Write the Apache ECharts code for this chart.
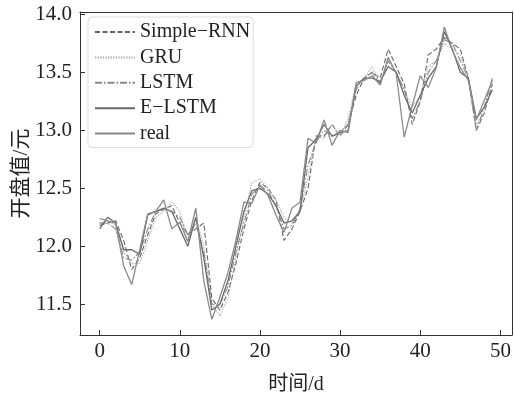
<!DOCTYPE html>
<html><head><meta charset="utf-8">
<script src="https://cdn.jsdelivr.net/npm/echarts@6/dist/echarts.min.js"></script>
<style>html,body{margin:0;padding:0;background:#fff}#c{width:514px;height:396px}</style>
</head><body><div id="c"></div>
<script>
const days = Array.from({length:50},(_,i)=>i);
const xTicks = [0,10,20,30,40,50];
const yTicks = [11.5,12.0,12.5,13.0,13.5,14.0];
const simpleRNN = [12.18,12.2,12.22,12.05,11.8,11.9,12.1,12.28,12.32,12.35,12.2,12.1,12.15,12.2,11.55,11.45,11.6,11.85,12.15,12.4,12.55,12.5,12.4,12.05,12.15,12.3,12.5,12.95,12.95,13.05,12.95,13.05,13.3,13.45,13.5,13.45,13.7,13.55,13.4,13.05,13.25,13.65,13.7,13.8,13.75,13.7,13.45,13.0,13.15,13.4];
const gru = [12.2,12.22,12.18,11.95,11.85,11.85,12.05,12.25,12.3,12.38,12.3,12.05,12.25,12.0,11.5,11.4,11.55,11.9,12.25,12.55,12.58,12.5,12.4,12.25,12.2,12.3,12.6,12.95,12.93,13.05,12.95,13.1,13.4,13.45,13.55,13.4,13.6,13.5,13.35,13.2,13.3,13.55,13.6,13.75,13.7,13.65,13.45,13.05,13.15,13.4];
const lstm = [12.2,12.2,12.15,11.9,11.88,11.95,12.15,12.3,12.32,12.3,12.25,12.1,12.2,11.95,11.5,11.5,11.65,11.95,12.2,12.45,12.52,12.48,12.35,12.15,12.18,12.32,12.7,12.9,13.0,12.95,12.98,13.05,13.35,13.45,13.5,13.4,13.6,13.5,13.35,13.1,13.25,13.5,13.6,13.78,13.75,13.6,13.45,13.0,13.2,13.45];
const eLSTM = [12.15,12.25,12.2,11.97,11.97,11.93,12.27,12.3,12.33,12.3,12.15,12.0,12.25,11.9,11.45,11.5,11.7,12.0,12.3,12.48,12.5,12.45,12.35,12.2,12.22,12.3,12.85,12.92,13.05,12.95,12.98,13.0,13.38,13.45,13.45,13.42,13.55,13.5,13.3,13.15,13.3,13.45,13.55,13.85,13.7,13.5,13.45,13.1,13.2,13.35];
const real = [12.24,12.22,12.2,11.83,11.67,11.97,12.28,12.3,12.4,12.15,12.21,12.04,12.33,11.7,11.37,11.56,11.77,12.05,12.38,12.37,12.53,12.44,12.27,12.12,12.33,12.38,12.93,12.89,13.09,12.87,13.0,12.98,13.41,13.43,13.47,13.39,13.63,13.49,12.94,13.21,13.47,13.37,13.54,13.89,13.69,13.54,13.43,13.09,13.26,13.43];
const names = ['Simple\u2212RNN','GRU','LSTM','E\u2212LSTM','real'];

const serif = '"Liberation Serif","Noto Sans CJK SC",serif';
const axisColor = '#333';
function mk(name, data, color, type, width){
  return {name, type:'line', data: days.map((d,i)=>[d,data[i]]), symbol:'none', animation:false,
    lineStyle:{color, type, width}, itemStyle:{color}};
}
const chart = echarts.init(document.getElementById('c'), null, {renderer:'canvas'});
chart.setOption({
  animation:false,
  grid:{left:80, right:2, top:12, bottom:61, containLabel:false, outerBoundsMode:'none'},
  legend:{
    left:88, top:17, orient:'vertical', itemWidth:40, itemHeight:14, itemGap:5.4,
    backgroundColor:'#fff', borderColor:'#ddd', borderWidth:1, borderRadius:4, padding:[5,3,4,6],
    itemStyle:{opacity:0},
    textStyle:{fontFamily:serif, fontSize:20, lineHeight:20, color:'#222'},
    data:names
  },
  xAxis:[{type:'value', min:-2.45, max:51.45,
    name:'时间/d', nameLocation:'middle', nameGap:40, nameMoveOverlap:false,
    nameTextStyle:{fontFamily:serif, fontSize:20, color:'#222'},
    axisLine:{show:true, onZero:false, lineStyle:{color:axisColor, width:1}},
    axisTick:{show:true, inside:true, length:5, customValues:xTicks, lineStyle:{color:axisColor}},
    axisLabel:{customValues:xTicks, fontFamily:serif, fontSize:21, color:'#222', margin:6, hideOverlap:false},
    splitLine:{show:false}},
   {type:'value', position:'top', min:-2.45, max:51.45,
    axisLine:{show:true, onZero:false, lineStyle:{color:axisColor, width:1}}, axisTick:{show:false}, axisLabel:{show:false}, splitLine:{show:false}}],
  yAxis:[{type:'value', min:11.235, max:14.02,
    name:'开盘值/元', nameLocation:'middle', nameGap:48, nameMoveOverlap:false,
    nameTextStyle:{fontFamily:serif, fontSize:21, color:'#222'},
    axisLine:{show:true, onZero:false, lineStyle:{color:axisColor, width:1}},
    axisTick:{show:true, inside:true, length:5, customValues:yTicks, lineStyle:{color:axisColor}},
    axisLabel:{customValues:yTicks, formatter:v=>v.toFixed(1), fontFamily:serif, fontSize:21, color:'#222', margin:8},
    splitLine:{show:false}},
   {type:'value', position:'right', min:11.235, max:14.02,
    axisLine:{show:true, onZero:false, lineStyle:{color:axisColor, width:1}}, axisTick:{show:false}, axisLabel:{show:false}, splitLine:{show:false}}],
  series:[
    mk(names[0], simpleRNN, '#666', [5,2.5], 1.1),
    mk(names[1], gru, '#aaa', [1.3,1.3], 1.1),
    mk(names[2], lstm, '#888', [7,2,1.5,2], 1.1),
    mk(names[3], eLSTM, '#6a6a6a', 'solid', 1.3),
    mk(names[4], real, '#8a8a8a', 'solid', 1.3)
  ]
});
</script></body></html>
